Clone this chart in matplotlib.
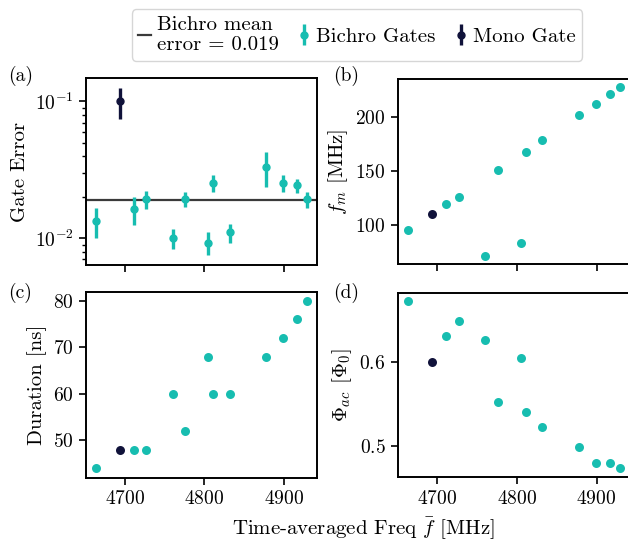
import matplotlib
matplotlib.use("Agg")
import matplotlib.pyplot as plt
import numpy as np

plt.rcParams['font.family'] = ['cmr10', 'DejaVu Serif']
plt.rcParams['mathtext.fontset'] = 'cm'
plt.rcParams['axes.unicode_minus'] = False
plt.rcParams['axes.formatter.use_mathtext'] = True
plt.rcParams['font.size'] = 14

# ---- data ----
freq_bi = [4663, 4711, 4727, 4760, 4776, 4805, 4811, 4832, 4878, 4899, 4917, 4929]
freq_mono = [4694]

err_bi = [0.0133, 0.0163, 0.0193, 0.0100, 0.0193, 0.0093, 0.0255, 0.0111, 0.0331, 0.0255, 0.0243, 0.0193]
err_bi_hi = [0.0166, 0.0200, 0.0222, 0.0117, 0.0217, 0.0112, 0.0290, 0.0128, 0.0426, 0.0288, 0.0272, 0.0218]
err_bi_lo = [0.0100, 0.0126, 0.0163, 0.0083, 0.0168, 0.0075, 0.0216, 0.0093, 0.0235, 0.0216, 0.0213, 0.0165]
err_mono = [0.100]
err_mono_hi = [0.125]
err_mono_lo = [0.0743]
mean_err = 0.019

fm_bi = [95, 119, 126, 71, 151, 83, 168, 179, 202, 212, 221, 228]
fm_mono = [110]

dur_bi = [44, 48, 48, 60, 52, 68, 60, 60, 68, 72, 76, 80]
dur_mono = [48]

phi_bi = [0.672, 0.631, 0.648, 0.626, 0.552, 0.605, 0.540, 0.522, 0.498, 0.480, 0.480, 0.473]
phi_mono = [0.600]

teal = '#17bdb0'
navy = '#10123a'

W, H = 628, 543
fig = plt.figure(figsize=(W/100, H/100), dpi=100)

def ax_at(l, t, r, b):
    return fig.add_axes([l/W, 1-b/H, (r-l)/W, (b-t)/H])

axa = ax_at(86, 78, 317, 265)
axb = ax_at(398, 79, 630, 264)
axc = ax_at(86, 292, 317, 478)
axd = ax_at(398, 293, 630, 477)

# (a)
yb = np.array(err_bi)
h1 = axa.axhline(mean_err, color='#3a3a3a', lw=1.6, zorder=1)
e1 = axa.errorbar(freq_bi, yb, yerr=[yb - np.array(err_bi_lo), np.array(err_bi_hi) - yb],
                  fmt='o', color=teal, ms=5, elinewidth=2.4, capsize=0, zorder=3)
ym = np.array(err_mono)
e2 = axa.errorbar(freq_mono, ym, yerr=[ym - np.array(err_mono_lo), np.array(err_mono_hi) - ym],
                  fmt='o', color=navy, ms=5, elinewidth=2.4, capsize=0, zorder=3)
axa.set_yscale('log')
axa.set_ylim(0.00638, 0.148)
axa.set_ylabel('Gate Error', fontsize=15)

# (b)
axb.scatter(freq_bi, fm_bi, color=teal, s=42, zorder=3, linewidths=0)
axb.scatter(freq_mono, fm_mono, color=navy, s=42, zorder=3, linewidths=0)
axb.set_ylim(63.8, 235.3)
axb.set_yticks([100, 150, 200])
axb.set_ylabel(r'$f_m$ [MHz]', fontsize=15)

# (c)
axc.scatter(freq_bi, dur_bi, color=teal, s=42, zorder=3, linewidths=0)
axc.scatter(freq_mono, dur_mono, color=navy, s=42, zorder=3, linewidths=0)
axc.set_ylim(41.9, 81.9)
axc.set_yticks([50, 60, 70, 80])
axc.set_ylabel('Duration [ns]', fontsize=15)

# (d)
axd.scatter(freq_bi, phi_bi, color=teal, s=42, zorder=3, linewidths=0)
axd.scatter(freq_mono, phi_mono, color=navy, s=42, zorder=3, linewidths=0)
axd.set_ylim(0.4628, 0.6818)
axd.set_yticks([0.5, 0.6])
axd.set_ylabel(r'$\Phi_{ac}$ [$\Phi_0$]', fontsize=15)

for ax in (axa, axb, axc, axd):
    ax.set_xlim(4651, 4942)
    ax.set_xticks([4700, 4800, 4900])
    ax.tick_params(direction='out', length=5, width=1.2, labelsize=14, top=False, right=False, pad=4)
    ax.tick_params(which='minor', direction='out', length=3, width=1.0, right=False, top=False)
    for s in ax.spines.values():
        s.set_linewidth(1.4)
for ax in (axa, axb):
    ax.tick_params(labelbottom=False)

fig.text(8/W, 1-76/H, '(a)', fontsize=14, va='center', ha='left')
fig.text(333/W, 1-76/H, '(b)', fontsize=14, va='center', ha='left')
fig.text(8/W, 1-293/H, '(c)', fontsize=14, va='center', ha='left')
fig.text(333/W, 1-293/H, '(d)', fontsize=14, va='center', ha='left')

fig.text(363/W, 1-529/H, r'Time-averaged Freq $\bar{f}$ [MHz]', fontsize=15, ha='center', va='center')

fig.legend([h1, e1, e2], ['Bichro mean\nerror = 0.019', 'Bichro Gates', 'Mono Gate'],
           loc='center', bbox_to_anchor=(357/W, 1-35/H), ncol=3, fontsize=15,
           handlelength=0.6, handletextpad=0.3, columnspacing=0.9,
           borderpad=0.3, labelspacing=0.2,
           frameon=True, edgecolor='#cccccc', fancybox=True)

fig.savefig('out.png', dpi=100)
